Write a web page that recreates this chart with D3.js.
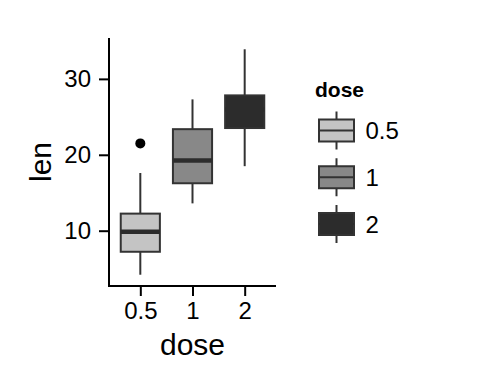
<!DOCTYPE html>
<html>
<head>
<meta charset="utf-8">
<title>len by dose</title>
<script src="https://cdn.jsdelivr.net/npm/d3@7"></script>
<style>
  body { margin: 0; background: #fff; }
  text { font-family: "Liberation Sans", Arial, sans-serif; fill: #000; }
</style>
</head>
<body>
<div id="chart"></div>
<script>
// ToothGrowth len by dose, box statistics
var doses = ["0.5", "1", "2"];
var lowWhisker = [4.2, 13.6, 18.5];
var q1 = [7.225, 16.25, 23.525];
var median = [9.85, 19.25, 25.95];
var q3 = [12.25, 23.375, 27.825];
var highWhisker = [17.6, 27.3, 33.9];
var outliers = [[21.5], [], []];
var yTicks = [10, 20, 30];
var boxColors = ["#c4c4c4", "#888888", "#2c2c2c"];

var width = 480, height = 384;
var pLeft = 109, pRight = 276, pTop = 38, pBottom = 286;

var svg = d3.select("#chart").append("svg")
  .attr("width", width)
  .attr("height", height);

// ggplot-style expansion: 5% of data range
var yMin = 4.2, yMax = 33.9, pad = (yMax - yMin) * 0.05;
var y = d3.scaleLinear().domain([yMin - pad, yMax + pad]).range([pBottom, pTop]);
var x = d3.scalePoint().domain(doses).range([pLeft, pRight]).padding(0.6);
var boxW = x.step() * 0.75;

var boxes = doses.map(function(d, i) {
  return { dose: d, lo: lowWhisker[i], q1: q1[i], med: median[i], q3: q3[i], hi: highWhisker[i], out: outliers[i], fill: boxColors[i] };
});

var g = svg.selectAll("g.box").data(boxes).enter().append("g").attr("class", "box");

// whiskers
g.append("line")
  .attr("x1", function(d) { return x(d.dose); })
  .attr("x2", function(d) { return x(d.dose); })
  .attr("y1", function(d) { return y(d.hi); })
  .attr("y2", function(d) { return y(d.q3); })
  .style("stroke", "#333").style("stroke-width", 2);
g.append("line")
  .attr("x1", function(d) { return x(d.dose); })
  .attr("x2", function(d) { return x(d.dose); })
  .attr("y1", function(d) { return y(d.q1); })
  .attr("y2", function(d) { return y(d.lo); })
  .style("stroke", "#333").style("stroke-width", 2);

// box body
g.append("rect")
  .attr("x", function(d) { return x(d.dose) - boxW / 2; })
  .attr("y", function(d) { return y(d.q3); })
  .attr("width", boxW)
  .attr("height", function(d) { return y(d.q1) - y(d.q3); })
  .style("fill", function(d) { return d.fill; })
  .style("stroke", "#333").style("stroke-width", 2);

// median
g.append("line")
  .attr("x1", function(d) { return x(d.dose) - boxW / 2; })
  .attr("x2", function(d) { return x(d.dose) + boxW / 2; })
  .attr("y1", function(d) { return y(d.med); })
  .attr("y2", function(d) { return y(d.med); })
  .style("stroke", "#2c2c2c").style("stroke-width", 4.5);

// outliers
g.selectAll("circle").data(function(d) { return d.out.map(function(v) { return { dose: d.dose, v: v }; }); })
  .enter().append("circle")
  .attr("cx", function(d) { return x(d.dose); })
  .attr("cy", function(d) { return y(d.v); })
  .attr("r", 5)
  .style("fill", "#000");

// axes
var yAxis = svg.append("g")
  .attr("transform", "translate(" + pLeft + ",0)")
  .call(d3.axisLeft(y).tickValues(yTicks).tickSize(10).tickPadding(8));
var xAxis = svg.append("g")
  .attr("transform", "translate(0," + pBottom + ")")
  .call(d3.axisBottom(x).tickSize(10).tickPadding(6));

[yAxis, xAxis].forEach(function(a) {
  a.select(".domain").remove();
  a.selectAll(".tick line").style("stroke", "#000").style("stroke-width", 2);
  a.selectAll(".tick text").style("font-size", "24px").style("fill", "#000")
    .style("font-family", "Liberation Sans, Arial, sans-serif");
});

svg.append("line").attr("x1", pLeft).attr("x2", pLeft).attr("y1", pTop).attr("y2", pBottom + 1)
  .style("stroke", "#000").style("stroke-width", 2);
svg.append("line").attr("x1", pLeft - 1).attr("x2", pRight).attr("y1", pBottom).attr("y2", pBottom)
  .style("stroke", "#000").style("stroke-width", 2);

// axis titles
svg.append("text")
  .attr("x", (pLeft + pRight) / 2).attr("y", 355)
  .attr("text-anchor", "middle")
  .style("font-size", "30px")
  .text("dose");
svg.append("text")
  .attr("transform", "translate(51," + (pTop + pBottom) / 2 + ") rotate(-90)")
  .attr("text-anchor", "middle")
  .style("font-size", "30px")
  .text("len");

// legend
var legend = svg.append("g").attr("transform", "translate(315,0)");
legend.append("text")
  .attr("x", 0).attr("y", 97)
  .style("font-size", "21px").style("font-weight", "bold")
  .text("dose");

var keyY = d3.scalePoint().domain(doses).range([130.5, 224]);
var keys = legend.selectAll("g.key").data(boxes).enter().append("g").attr("class", "key")
  .attr("transform", function(d) { return "translate(21.5," + keyY(d.dose) + ")"; });
keys.append("line").attr("x1", 0).attr("x2", 0).attr("y1", -19).attr("y2", 19)
  .style("stroke", "#333").style("stroke-width", 2);
keys.append("rect").attr("x", -17.5).attr("y", -11).attr("width", 35).attr("height", 22)
  .style("fill", function(d) { return d.fill; })
  .style("stroke", "#333").style("stroke-width", 2);
keys.append("line").attr("x1", -17.5).attr("x2", 17.5).attr("y1", 0).attr("y2", 0)
  .style("stroke", function(d) { return d.fill === "#2c2c2c" ? "#2c2c2c" : "#333"; })
  .style("stroke-width", 2);
keys.append("text")
  .attr("x", 29).attr("y", 0).attr("dy", "0.36em")
  .style("font-size", "24px")
  .text(function(d) { return d.dose; });
</script>
</body>
</html>
